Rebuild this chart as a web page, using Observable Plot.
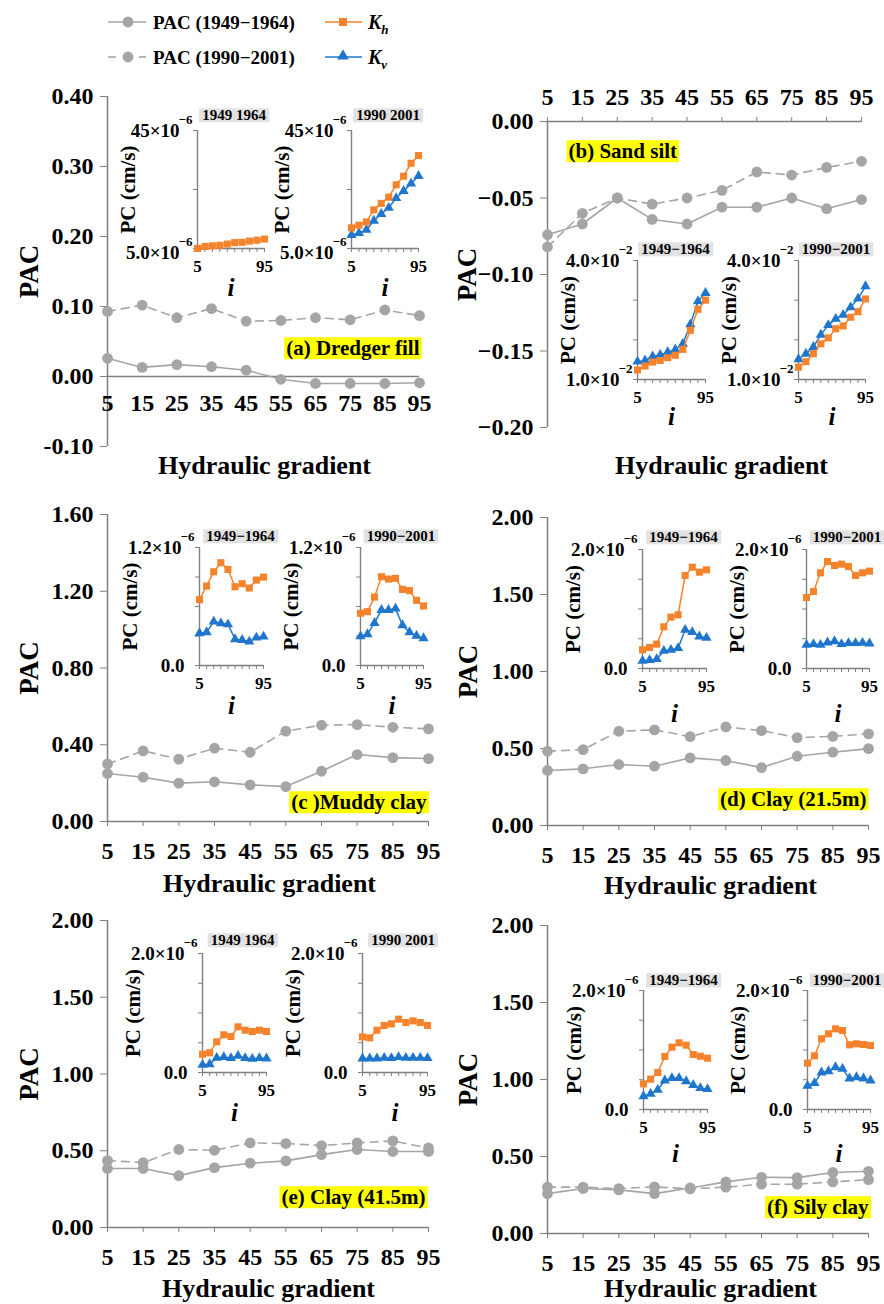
<!DOCTYPE html>
<html><head><meta charset="utf-8">
<script src="https://cdn.jsdelivr.net/npm/d3@7"></script>
<script src="https://cdn.jsdelivr.net/npm/@observablehq/plot@0.6"></script>
<style>
body{margin:0;background:#fff;}
#root{position:relative;width:884px;height:1304px;overflow:hidden;background:#fff;font-family:"Liberation Serif","Times New Roman",serif;}
</style></head><body><div id="root"></div>
<script>
// ---------- data ----------
const gradient = [5, 15, 25, 35, 45, 55, 65, 75, 85, 95];

const pacA1949 = [0.026, 0.013, 0.017, 0.014, 0.009, -0.004, -0.010, -0.010, -0.010, -0.009];
const pacA1990 = [0.093, 0.102, 0.084, 0.097, 0.079, 0.080, 0.084, 0.081, 0.095, 0.087];
const pacB1949 = [-0.074, -0.067, -0.050, -0.064, -0.067, -0.056, -0.056, -0.050, -0.057, -0.051];
const pacB1990 = [-0.082, -0.060, -0.050, -0.054, -0.050, -0.045, -0.033, -0.035, -0.030, -0.026];
const pacC1949 = [0.250, 0.231, 0.200, 0.207, 0.191, 0.182, 0.262, 0.349, 0.333, 0.328];
const pacC1990 = [0.300, 0.368, 0.325, 0.382, 0.361, 0.471, 0.502, 0.505, 0.491, 0.483];
const pacD1949 = [0.357, 0.368, 0.396, 0.385, 0.439, 0.422, 0.376, 0.450, 0.476, 0.499];
const pacD1990 = [0.482, 0.493, 0.612, 0.621, 0.577, 0.640, 0.616, 0.571, 0.579, 0.595];
const pacE1949 = [0.384, 0.384, 0.338, 0.390, 0.419, 0.434, 0.475, 0.508, 0.495, 0.495];
const pacE1990 = [0.436, 0.423, 0.508, 0.503, 0.551, 0.547, 0.534, 0.551, 0.564, 0.518];
const pacF1949 = [0.259, 0.292, 0.283, 0.259, 0.296, 0.335, 0.365, 0.363, 0.396, 0.404];
const pacF1990 = [0.301, 0.301, 0.292, 0.303, 0.290, 0.301, 0.320, 0.320, 0.335, 0.350];

// inset permeability coefficients (display units)
const khA1949 = [5.0, 5.7, 5.9, 6.1, 6.5, 7.0, 7.1, 7.5, 7.8, 8.2];
const khA1990 = [12.0, 12.9, 14.0, 18.1, 20.3, 22.4, 26.6, 29.5, 33.9, 36.5];
const kvA1990 = [9.6, 10.2, 11.3, 14.4, 16.7, 18.8, 22.1, 24.5, 27.0, 29.6];
const khB1949 = [1.24, 1.34, 1.44, 1.48, 1.55, 1.61, 1.76, 2.24, 2.77, 3.00];
const kvB1949 = [1.45, 1.48, 1.58, 1.62, 1.69, 1.75, 1.90, 2.39, 2.97, 3.18];
const khB1990 = [1.31, 1.45, 1.65, 1.90, 2.05, 2.28, 2.35, 2.57, 2.71, 3.03];
const kvB1990 = [1.51, 1.65, 1.82, 2.13, 2.37, 2.53, 2.63, 2.82, 3.04, 3.35];
const khC1949 = [0.669, 0.808, 0.953, 1.045, 0.977, 0.801, 0.832, 0.788, 0.869, 0.899];
const kvC1949 = [0.328, 0.338, 0.446, 0.429, 0.419, 0.267, 0.260, 0.243, 0.284, 0.294];
const khC1990 = [0.531, 0.548, 0.696, 0.903, 0.879, 0.886, 0.774, 0.761, 0.663, 0.605];
const kvC1990 = [0.297, 0.318, 0.433, 0.565, 0.565, 0.578, 0.409, 0.338, 0.301, 0.277];
const khD1949 = [0.314, 0.353, 0.409, 0.700, 0.863, 0.902, 1.563, 1.703, 1.619, 1.658];
const kvD1949 = [0.129, 0.140, 0.157, 0.297, 0.314, 0.342, 0.650, 0.611, 0.538, 0.515];
const khD1990 = [1.193, 1.294, 1.608, 1.798, 1.731, 1.754, 1.714, 1.563, 1.608, 1.636];
const kvD1990 = [0.398, 0.409, 0.398, 0.437, 0.459, 0.409, 0.426, 0.426, 0.431, 0.420];
const khE1949 = [0.308, 0.331, 0.515, 0.633, 0.605, 0.768, 0.711, 0.689, 0.711, 0.689];
const kvE1949 = [0.129, 0.140, 0.246, 0.258, 0.241, 0.280, 0.241, 0.230, 0.241, 0.235];
const khE1990 = [0.599, 0.583, 0.711, 0.790, 0.818, 0.896, 0.840, 0.868, 0.840, 0.790];
const kvE1990 = [0.235, 0.235, 0.235, 0.246, 0.241, 0.258, 0.246, 0.246, 0.246, 0.241];
const khF1949 = [0.431, 0.510, 0.622, 0.891, 1.048, 1.120, 1.081, 0.924, 0.896, 0.863];
const kvF1949 = [0.224, 0.263, 0.331, 0.487, 0.527, 0.527, 0.476, 0.409, 0.359, 0.342];
const khF1990 = [0.779, 0.902, 1.188, 1.272, 1.356, 1.328, 1.087, 1.104, 1.092, 1.076];
const kvF1990 = [0.398, 0.443, 0.622, 0.644, 0.711, 0.683, 0.521, 0.543, 0.521, 0.487];

const panelTags = ["(a) Dredger fill", "(b) Sand silt", "(c )Muddy clay", "(d) Clay (21.5m)", "(e) Clay (41.5m)", "(f) Sily clay"];
const ticksA = [-0.1, 0, 0.1, 0.2, 0.3, 0.4];
const ticksB = [-0.2, -0.15, -0.1, -0.05, 0];
const ticksC = [0, 0.4, 0.8, 1.2, 1.6];
const ticksDEF = [0, 0.5, 1, 1.5, 2];
const legendLabels = ["PAC (1949\u22121964)", "PAC (1990\u22122001)"];

// ---------- helpers ----------
const root = document.getElementById("root");
const FONT = "'Liberation Serif','Times New Roman',serif";
const GREY = "#a5a5a5", AXIS = "#7f7f7f", ORANGE = "#f5832c", BLUE = "#1f76cc";
const rows = arr => arr.map((v, i) => ({g: gradient[i], v}));
const txt = d => d;
const BOXES = {};

function place(svg, left, top) {
  svg.style.position = "absolute";
  svg.style.left = left + "px";
  svg.style.top = top + "px";
  svg.style.maxWidth = "none";
  root.appendChild(svg);
  svg.querySelectorAll("text").forEach(t => {
    const spec = BOXES[t.textContent];
    if (!spec) return;
    const b = t.getBBox();
    const r = document.createElementNS("http://www.w3.org/2000/svg", "rect");
    r.setAttribute("x", b.x - spec.px);
    r.setAttribute("y", b.y - spec.py);
    r.setAttribute("width", b.width + 2 * spec.px);
    r.setAttribute("height", b.height + 2 * spec.py);
    r.setAttribute("fill", spec.fill);
    r.setAttribute("stroke", "none");
    const tr = t.getAttribute("transform");
    if (tr) r.setAttribute("transform", tr);
    t.parentNode.insertBefore(r, t);
  });
}
panelTags.forEach(s => BOXES[s] = {fill: "#ffff00", px: 2, py: -1});

const baseStyle = {background: "transparent", overflow: "visible", fontFamily: FONT, color: "black"};

function mainPanel(c) {
  const colW = 442, mT = 40, mB = 90;
  const mL = c.x0 - c.col, mR = c.col + colW - c.x1;
  const H = mT + (c.yBot - c.yTop) + mB;
  const fmt = c.minus ? (d => d.toFixed(2).replace("-", "\u2212")) : (d => d.toFixed(2));
  const marks = [
    Plot.ruleX([5], {stroke: AXIS, strokeWidth: 1.5}),
    Plot.ruleY([0], {stroke: AXIS, strokeWidth: 1.5}),
    Plot.axisY({ticks: c.ticks, tickFormat: fmt, tickSize: 7, tickPadding: 7, fontSize: 24, fontWeight: "bold", stroke: AXIS, color: "black", label: null})
  ];
  if (c.xAxis === "zero") {
    marks.push(Plot.text(gradient, {x: d => d, y: 0, dy: 27, text: d => String(d), fontSize: 24, fontWeight: "bold", lineAnchor: "middle", fill: "black"}));
  } else {
    marks.push(Plot.axisX({anchor: c.xAxis, ticks: gradient, tickFormat: d => String(d), tickSize: 5, tickPadding: c.xAxis === "top" ? 12 : 15, fontSize: 24, fontWeight: "bold", stroke: AXIS, color: "black", label: null}));
  }
  marks.push(
    Plot.line(rows(c.dashed), {x: "g", y: "v", stroke: GREY, strokeWidth: 1.6, strokeDasharray: "8,6"}),
    Plot.dot(rows(c.dashed), {x: "g", y: "v", r: 5.4, fill: GREY}),
    Plot.line(rows(c.solid), {x: "g", y: "v", stroke: GREY, strokeWidth: 1.6}),
    Plot.dot(rows(c.solid), {x: "g", y: "v", r: 5.4, fill: GREY}),
    Plot.text(["PAC"], {text: txt, frameAnchor: "left", textAnchor: "middle", lineAnchor: "middle", rotate: -90, dx: c.pacX - c.x0, fontSize: 27, fontWeight: "bold", fill: "black"}),
    Plot.text(["Hydraulic gradient"], {text: txt, frameAnchor: "top-left", dx: c.titleX - c.x0, dy: c.titleY - c.yTop, textAnchor: "middle", lineAnchor: "middle", fontSize: 26, fontWeight: "bold", fill: "black"}),
    Plot.text([c.tag], {text: txt, frameAnchor: "top-left", dx: c.tagX - c.x0, dy: c.tagY - c.yTop, textAnchor: c.tagAnchor, lineAnchor: "middle", fontSize: 21, fontWeight: "bold", fill: "black"})
  );
  const svg = Plot.plot({
    width: colW, height: H, marginLeft: mL, marginRight: mR, marginTop: mT, marginBottom: mB,
    x: {domain: [5, 95], axis: null}, y: {domain: c.domain, axis: null},
    style: baseStyle, marks
  });
  place(svg, c.col, c.yTop - mT);
}

function inset(c) {
  const mL = 100, mR = 30, mT = 35, mB = 60;
  const W = mL + (c.x1 - c.x0) + mR, H = mT + (c.bot - c.top) + mB;
  const lo = c.domain[0];
  BOXES[c.title] = {fill: "#e2e2e2", px: 3, py: -1};
  const marks = [
    Plot.ruleX([5], {stroke: AXIS, strokeWidth: 1.4}),
    Plot.ruleY([lo], {stroke: AXIS, strokeWidth: 1.4}),
    Plot.axisY({ticks: c.ticks, tickSize: 4, tickFormat: () => "", stroke: AXIS, label: null}),
    Plot.axisX({ticks: gradient, tickSize: 4, tickPadding: 7, tickFormat: d => (d === 5 || d === 95) ? String(d) : "", fontSize: 17, fontWeight: "bold", stroke: AXIS, color: "black", label: null})
  ];
  if (c.kv) marks.push(
    Plot.line(rows(c.kv), {x: "g", y: "v", stroke: BLUE, strokeWidth: 1.5}),
    Plot.dot(rows(c.kv), {x: "g", y: "v", symbol: "triangle", r: 3.8, fill: BLUE})
  );
  marks.push(
    Plot.line(rows(c.kh), {x: "g", y: "v", stroke: ORANGE, strokeWidth: 1.5}),
    Plot.dot(rows(c.kh), {x: "g", y: "v", symbol: "square", r: 4, fill: ORANGE}),
    Plot.text([c.topLab], {text: txt, frameAnchor: "top-left", dx: c.topSup ? -18 : -15, dy: 0, textAnchor: "end", lineAnchor: "middle", fontSize: 19, fontWeight: "bold", fill: "black"}),
    Plot.text([c.botLab], {text: txt, frameAnchor: "bottom-left", dx: c.botSup ? -18 : -15, dy: c.botDy, textAnchor: "end", lineAnchor: "middle", fontSize: 19, fontWeight: "bold", fill: "black"}),
    Plot.text(["PC (cm/s)"], {text: txt, frameAnchor: "left", textAnchor: "middle", lineAnchor: "middle", rotate: -90, dx: -69, fontSize: 21, fontWeight: "bold", fill: "black"}),
    Plot.text(["i"], {text: txt, frameAnchor: "bottom", dy: c.iDy, lineAnchor: "middle", fontSize: 25, fontStyle: "italic", fontWeight: "bold", fill: "black"}),
    Plot.text([c.title], {text: txt, frameAnchor: "top", dx: c.tdx, dy: c.tdy, lineAnchor: "middle", fontSize: 15, fontWeight: "bold", fill: "black"})
  );
  if (c.topSup) marks.push(Plot.text([c.topSup], {text: txt, frameAnchor: "top-left", dx: -5, dy: -11, textAnchor: "end", lineAnchor: "middle", fontSize: 13, fontWeight: "bold", fill: "black"}));
  if (c.botSup) marks.push(Plot.text([c.botSup], {text: txt, frameAnchor: "bottom-left", dx: -5, dy: c.botDy - 11, textAnchor: "end", lineAnchor: "middle", fontSize: 13, fontWeight: "bold", fill: "black"}));
  const svg = Plot.plot({
    width: W, height: H, marginLeft: mL, marginRight: mR, marginTop: mT, marginBottom: mB,
    x: {domain: [5, 95], axis: null}, y: {domain: c.domain, axis: null},
    style: baseStyle, marks
  });
  place(svg, c.x0 - mL, c.top - mT);
}

// ---------- main panels ----------
mainPanel({col: 0, x0: 107, x1: 419, yTop: 96, yBot: 446, domain: [-0.1, 0.4], ticks: ticksA, solid: pacA1949, dashed: pacA1990, xAxis: "zero", pacX: 29, titleX: 264, titleY: 465, tag: panelTags[0], tagX: 419, tagY: 348, tagAnchor: "end"});
mainPanel({col: 440, x0: 547, x1: 861, yTop: 121, yBot: 427, domain: [-0.2, 0], ticks: ticksB, minus: true, solid: pacB1949, dashed: pacB1990, xAxis: "top", pacX: 467, titleX: 721, titleY: 465, tag: panelTags[1], tagX: 568, tagY: 151, tagAnchor: "start"});
mainPanel({col: 0, x0: 107, x1: 428, yTop: 514, yBot: 821, domain: [0, 1.6], ticks: ticksC, solid: pacC1949, dashed: pacC1990, xAxis: "bottom", pacX: 29, titleX: 269, titleY: 883, tag: panelTags[2], tagX: 426, tagY: 802, tagAnchor: "end"});
mainPanel({col: 440, x0: 547, x1: 868, yTop: 517, yBot: 825, domain: [0, 2], ticks: ticksDEF, solid: pacD1949, dashed: pacD1990, xAxis: "bottom", pacX: 468, titleX: 710, titleY: 885, tag: panelTags[3], tagX: 866, tagY: 799, tagAnchor: "end"});
mainPanel({col: 0, x0: 107, x1: 428, yTop: 920, yBot: 1227, domain: [0, 2], ticks: ticksDEF, solid: pacE1949, dashed: pacE1990, xAxis: "bottom", pacX: 29, titleX: 268, titleY: 1288, tag: panelTags[4], tagX: 425, tagY: 1197, tagAnchor: "end"});
mainPanel({col: 440, x0: 547, x1: 868, yTop: 925, yBot: 1233, domain: [0, 2], ticks: ticksDEF, solid: pacF1949, dashed: pacF1990, xAxis: "bottom", pacX: 468, titleX: 710, titleY: 1288, tag: panelTags[5], tagX: 868, tagY: 1207, tagAnchor: "end"});

// ---------- insets ----------
const E6 = "\u22126", E2 = "\u22122";
inset({x0: 197, x1: 264, top: 130, bot: 248, domain: [5, 45], ticks: [5, 25, 45], kh: khA1949, kv: null, title: "1949 1964", topLab: "45\u00d710", topSup: E6, botLab: "5.0\u00d710", botSup: E6, botDy: 4, iDy: 39, tdx: 3, tdy: -15});
inset({x0: 351, x1: 418, top: 130, bot: 248, domain: [5, 45], ticks: [5, 25, 45], kh: khA1990, kv: kvA1990, title: "1990 2001", topLab: "45\u00d710", topSup: E6, botLab: "5.0\u00d710", botSup: E6, botDy: 4, iDy: 39, tdx: 3, tdy: -15});
inset({x0: 637, x1: 705, top: 260, bot: 379, domain: [1, 4], ticks: [1, 2, 3, 4], kh: khB1949, kv: kvB1949, title: "1949\u22121964", topLab: "4.0\u00d710", topSup: E2, botLab: "1.0\u00d710", botSup: E2, botDy: 0, iDy: 37, tdx: 4, tdy: -11});
inset({x0: 798, x1: 865, top: 260, bot: 379, domain: [1, 4], ticks: [1, 2, 3, 4], kh: khB1990, kv: kvB1990, title: "1990\u22122001", topLab: "4.0\u00d710", topSup: E2, botLab: "1.0\u00d710", botSup: E2, botDy: 0, iDy: 37, tdx: 4, tdy: -11});
inset({x0: 199, x1: 263, top: 547, bot: 665, domain: [0, 1.2], ticks: [0, 0.3, 0.6, 0.9, 1.2], kh: khC1949, kv: kvC1949, title: "1949\u22121964", topLab: "1.2\u00d710", topSup: E6, botLab: "0.0", botSup: null, botDy: 0, iDy: 40, tdx: 9, tdy: -11});
inset({x0: 360, x1: 423, top: 547, bot: 665, domain: [0, 1.2], ticks: [0, 0.3, 0.6, 0.9, 1.2], kh: khC1990, kv: kvC1990, title: "1990\u22122001", topLab: "1.2\u00d710", topSup: E6, botLab: "0.0", botSup: null, botDy: 0, iDy: 40, tdx: 9, tdy: -11});
inset({x0: 642, x1: 706, top: 549, bot: 668, domain: [0, 2], ticks: ticksDEF, kh: khD1949, kv: kvD1949, title: "1949\u22121964", topLab: "2.0\u00d710", topSup: E6, botLab: "0.0", botSup: null, botDy: 0, iDy: 45, tdx: 9, tdy: -12});
inset({x0: 806, x1: 869, top: 549, bot: 668, domain: [0, 2], ticks: ticksDEF, kh: khD1990, kv: kvD1990, title: "1990\u22122001", topLab: "2.0\u00d710", topSup: E6, botLab: "0.0", botSup: null, botDy: 0, iDy: 45, tdx: 9, tdy: -12});
inset({x0: 202, x1: 266, top: 953, bot: 1072, domain: [0, 2], ticks: ticksDEF, kh: khE1949, kv: kvE1949, title: "1949 1964", topLab: "2.0\u00d710", topSup: E6, botLab: "0.0", botSup: null, botDy: 0, iDy: 40, tdx: 8, tdy: -13});
inset({x0: 362, x1: 427, top: 953, bot: 1072, domain: [0, 2], ticks: ticksDEF, kh: khE1990, kv: kvE1990, title: "1990 2001", topLab: "2.0\u00d710", topSup: E6, botLab: "0.0", botSup: null, botDy: 0, iDy: 40, tdx: 8, tdy: -13});
inset({x0: 643, x1: 707, top: 990, bot: 1109, domain: [0, 2], ticks: ticksDEF, kh: khF1949, kv: kvF1949, title: "1949\u22121964", topLab: "2.0\u00d710", topSup: E6, botLab: "0.0", botSup: null, botDy: 0, iDy: 44, tdx: 8, tdy: -10});
inset({x0: 807, x1: 870, top: 990, bot: 1109, domain: [0, 2], ticks: ticksDEF, kh: khF1990, kv: kvF1990, title: "1990\u22122001", topLab: "2.0\u00d710", topSup: E6, botLab: "0.0", botSup: null, botDy: 0, iDy: 44, tdx: 8, tdy: -10});

// ---------- legend ----------
const lg = d3.select(root).append("svg")
  .attr("width", 440).attr("height", 80)
  .style("position", "absolute").style("left", "0px").style("top", "0px")
  .style("font-family", FONT).style("overflow", "visible");
lg.append("line").attr("x1", 108).attr("x2", 146).attr("y1", 22).attr("y2", 22).attr("stroke", GREY).attr("stroke-width", 1.6);
lg.append("circle").attr("cx", 128).attr("cy", 22).attr("r", 5.4).attr("fill", GREY);
lg.append("line").attr("x1", 108).attr("x2", 116).attr("y1", 57).attr("y2", 57).attr("stroke", GREY).attr("stroke-width", 1.6);
lg.append("line").attr("x1", 139).attr("x2", 146).attr("y1", 57).attr("y2", 57).attr("stroke", GREY).attr("stroke-width", 1.6);
lg.append("circle").attr("cx", 128).attr("cy", 57).attr("r", 5.4).attr("fill", GREY);
lg.append("text").attr("x", 153).attr("y", 22).attr("dy", "0.35em").attr("font-size", 19).attr("font-weight", "bold").text(legendLabels[0]);
lg.append("text").attr("x", 153).attr("y", 57).attr("dy", "0.35em").attr("font-size", 19).attr("font-weight", "bold").text(legendLabels[1]);
lg.append("line").attr("x1", 325).attr("x2", 362).attr("y1", 22).attr("y2", 22).attr("stroke", ORANGE).attr("stroke-width", 1.6);
lg.append("rect").attr("x", 339).attr("y", 18).attr("width", 8).attr("height", 8).attr("fill", ORANGE);
lg.append("line").attr("x1", 325).attr("x2", 362).attr("y1", 57).attr("y2", 57).attr("stroke", BLUE).attr("stroke-width", 1.6);
lg.append("path").attr("d", d3.symbol(d3.symbolTriangle, 60)()).attr("transform", "translate(343,56)").attr("fill", BLUE);
const kh = lg.append("text").attr("x", 368).attr("y", 22).attr("dy", "0.35em").attr("font-size", 20).attr("font-weight", "bold").attr("font-style", "italic");
kh.append("tspan").text("K");
kh.append("tspan").attr("dy", 5).attr("font-size", 13).text("h");
const kv = lg.append("text").attr("x", 368).attr("y", 57).attr("dy", "0.35em").attr("font-size", 20).attr("font-weight", "bold").attr("font-style", "italic");
kv.append("tspan").text("K");
kv.append("tspan").attr("dy", 5).attr("font-size", 13).text("v");
</script></body></html>
